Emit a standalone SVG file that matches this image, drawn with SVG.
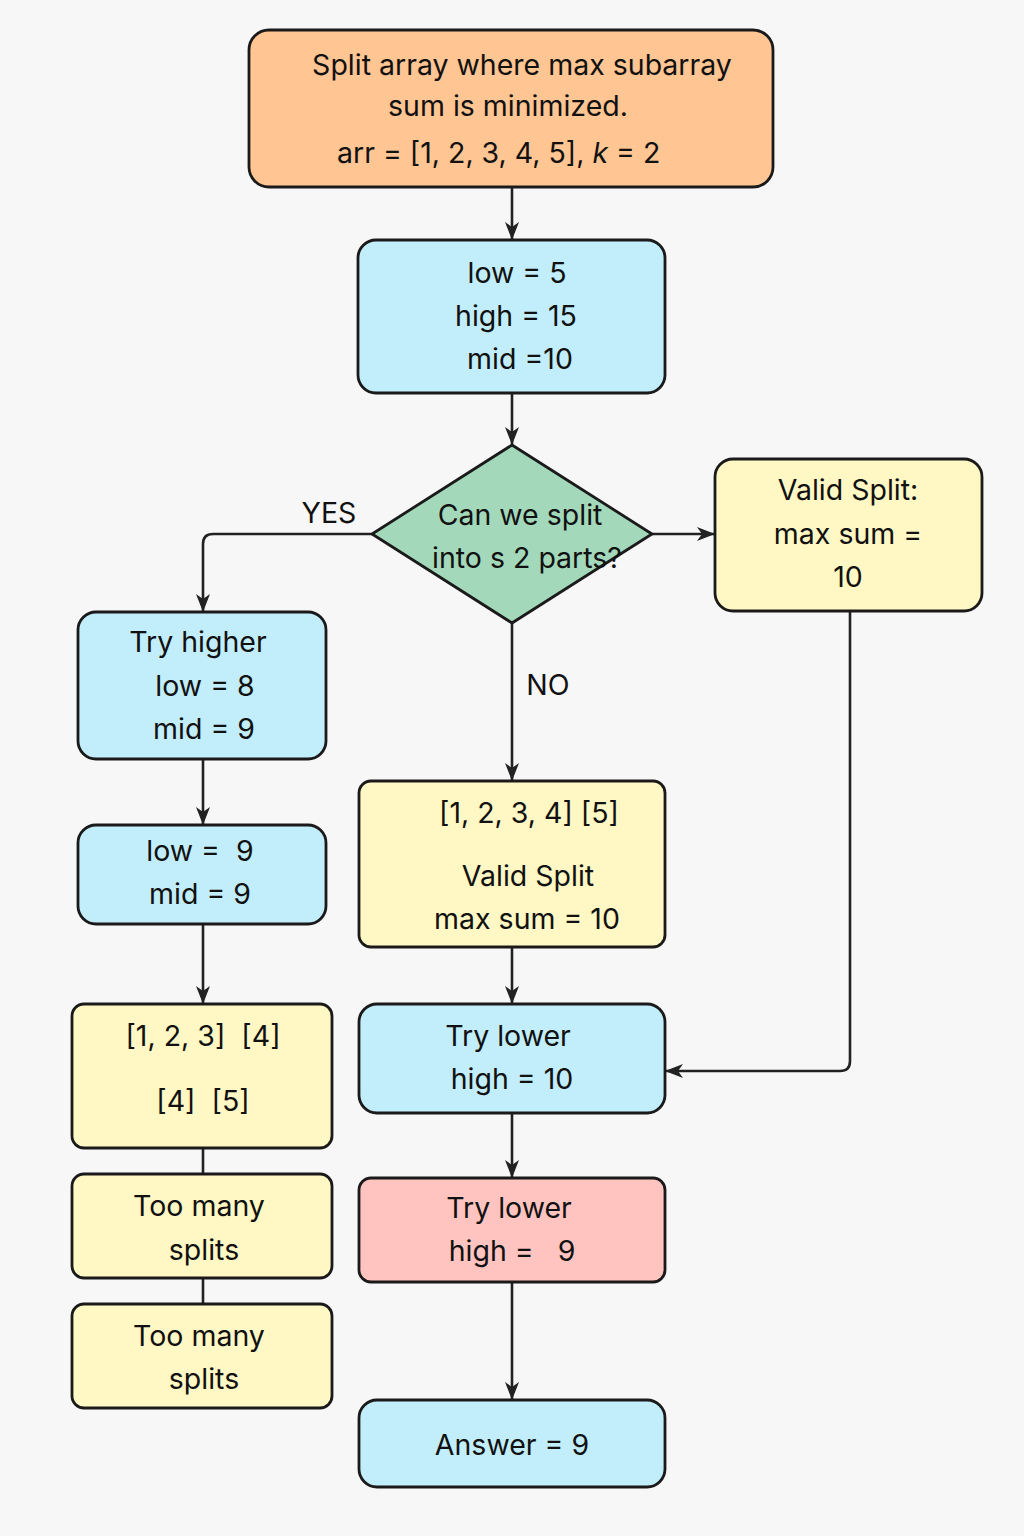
<svg xmlns="http://www.w3.org/2000/svg" width="1024" height="1536" viewBox="0 0 1024 1536">
<defs>
<marker id="ah" viewBox="0 0 18 16" refX="17" refY="8" markerWidth="18" markerHeight="16" markerUnits="userSpaceOnUse" orient="auto">
<path d="M0,1 L18,8 L0,15 L5,8 Z" fill="#222"/>
</marker>
<style>
.n{stroke:#1a1a1a;stroke-width:2.8}
.o{fill:#FFC592}.b{fill:#C2EEFB}.y{fill:#FFF8C4}.g{fill:#A3D9BA}.r{fill:#FFC4C0}
text{font-family:Inter,"Noto Sans","Liberation Sans",sans-serif;font-size:28.5px;fill:#111;text-anchor:middle}
.c{fill:none;stroke:#222;stroke-width:2.6}
</style>
</defs>
<rect width="1024" height="1536" fill="#F7F7F7"/>
<g id="connectors">
<path class="c" d="M512,187 V239" marker-end="url(#ah)"/>
<path class="c" d="M512,393 V444" marker-end="url(#ah)"/>
<path class="c" d="M372,534 H213 Q203,534 203,544 V611" marker-end="url(#ah)"/>
<path class="c" d="M652,534 H714" marker-end="url(#ah)"/>
<path class="c" d="M512,623 V780" marker-end="url(#ah)"/>
<path class="c" d="M203,759 V824" marker-end="url(#ah)"/>
<path class="c" d="M203,924 V1003" marker-end="url(#ah)"/>
<path class="c" d="M203,1148 V1174"/>
<path class="c" d="M203,1278 V1304"/>
<path class="c" d="M512,947 V1003" marker-end="url(#ah)"/>
<path class="c" d="M850,611 V1061 Q850,1071 840,1071 H666" marker-end="url(#ah)"/>
<path class="c" d="M512,1113 V1177" marker-end="url(#ah)"/>
<path class="c" d="M512,1282 V1399" marker-end="url(#ah)"/>
<text x="329" y="523">YES</text>
<text x="548" y="695">NO</text>
</g>
<g id="start">
<rect class="n o" x="249" y="30" width="524" height="157" rx="20"/>
<text x="522" y="75">Split array where max subarray</text>
<text x="508" y="116">sum is minimized.</text>
<text x="337" y="163" style="text-anchor:start">arr = [1, 2, 3, 4, 5], <tspan font-style="italic">k</tspan> = 2</text>
</g>
<g id="init">
<rect class="n b" x="358" y="240" width="307" height="153" rx="18"/>
<text x="517" y="283">low = 5</text>
<text x="516" y="326">high = 15</text>
<text x="520" y="369">mid =10</text>
</g>
<g id="decision">
<polygon class="n g" points="512,445 652,534 512,623 372,534"/>
<text x="520" y="525">Can we split</text>
<text x="527" y="568">into s 2 parts?</text>
</g>
<g id="valid-right">
<rect class="n y" x="715" y="459" width="267" height="152" rx="18"/>
<text x="848" y="500">Valid Split:</text>
<text x="848" y="544">max sum =</text>
<text x="848" y="587">10</text>
</g>
<g id="try-higher">
<rect class="n b" x="78" y="612" width="248" height="147" rx="18"/>
<text x="198" y="652">Try higher</text>
<text x="205" y="696">low = 8</text>
<text x="204" y="739">mid = 9</text>
</g>
<g id="low9">
<rect class="n b" x="78" y="825" width="248" height="99" rx="18"/>
<text x="200" y="861" xml:space="preserve">low =  9</text>
<text x="200" y="904">mid = 9</text>
</g>
<g id="splits-left">
<rect class="n y" x="72" y="1004" width="260" height="144" rx="12"/>
<text x="203" y="1046" xml:space="preserve">[1, 2, 3]  [4]</text>
<text x="203" y="1111" xml:space="preserve">[4]  [5]</text>
</g>
<g id="too-many-1">
<rect class="n y" x="72" y="1174" width="260" height="104" rx="12"/>
<text x="199" y="1216">Too many</text>
<text x="204" y="1260">splits</text>
</g>
<g id="too-many-2">
<rect class="n y" x="72" y="1304" width="260" height="104" rx="12"/>
<text x="199" y="1346">Too many</text>
<text x="204" y="1389">splits</text>
</g>
<g id="split-mid">
<rect class="n y" x="359" y="781" width="306" height="166" rx="12"/>
<text x="529" y="823">[1, 2, 3, 4] [5]</text>
<text x="528" y="886">Valid Split</text>
<text x="527" y="929">max sum = 10</text>
</g>
<g id="try-lower-1">
<rect class="n b" x="359" y="1004" width="306" height="109" rx="18"/>
<text x="508" y="1046">Try lower</text>
<text x="512" y="1089">high = 10</text>
</g>
<g id="try-lower-2">
<rect class="n r" x="359" y="1178" width="306" height="104" rx="12"/>
<text x="509" y="1218">Try lower</text>
<text x="512" y="1261" xml:space="preserve">high =   9</text>
</g>
<g id="answer">
<rect class="n b" x="359" y="1400" width="306" height="87" rx="18"/>
<text x="512" y="1455">Answer = 9</text>
</g>
</svg>
